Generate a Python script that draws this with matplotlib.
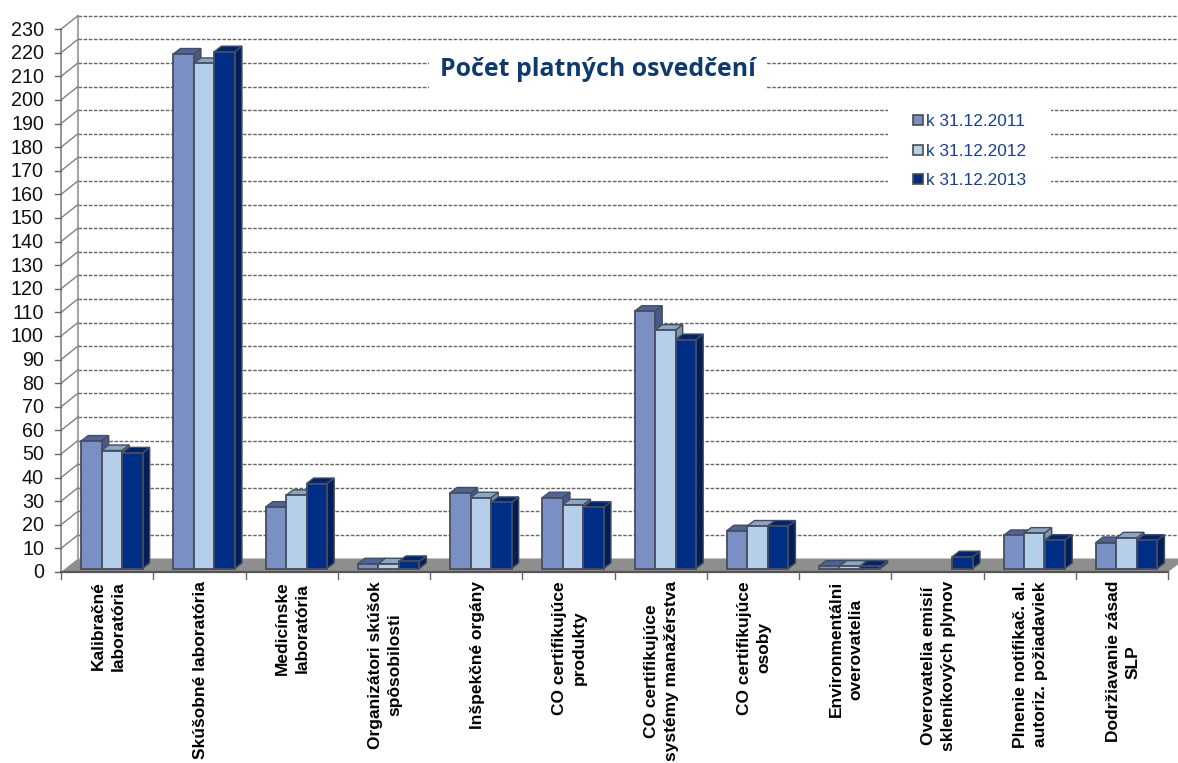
import matplotlib
matplotlib.use("Agg")
import matplotlib.pyplot as plt
from matplotlib.patches import Polygon, Rectangle

categories = ["Kalibračné\nlaboratória", "Skúšobné laboratória", "Medicínske\nlaboratória",
              "Organizátori skúšok\nspôsobilosti", "Inšpekčné orgány", "CO certifikujúce\nprodukty",
              "CO certifikujúce\nsystémy manažérstva", "CO certifikujúce\nosoby",
              "Environmentálni\noverovatelia", "Overovatelia emisií\nskleníkových plynov",
              "Plnenie notifikač. al.\nautoriz. požiadaviek", "Dodržiavanie zásad\nSLP"]
series_names = ["k 31.12.2011", "k 31.12.2012", "k 31.12.2013"]
s2011 = [54, 218, 26, 2, 32, 30, 109, 16, 1, 0, 14, 11]
s2012 = [50, 214, 31, 2, 30, 27, 101, 18, 1, 0, 15, 13]
s2013 = [49, 219, 36, 3, 28, 26, 97, 18, 1, 5, 12, 12]
y_ticks = list(range(0, 231, 10))
title = "Počet platných osvedčení"

front = ["#7a90c4", "#b5cfeb", "#002d85"]
top_c = ["#4f6496", "#8ba6c4", "#00246c"]
side = ["#47598a", "#7f97b3", "#001e5a"]
edge = "#474d5c"

W, H = 1178, 763
UX, UY = 92.25, 2.36      # pixels per category / per value unit
X0, Y0 = 61, 572          # pixel position of the origin
fig = plt.figure(figsize=(W / 100, H / 100), dpi=100)
ax = fig.add_axes([0, 0, 1, 1])
ax.set_xlim(-X0 / UX, (W - X0) / UX)
ax.set_ylim(-(H - Y0) / UY, Y0 / UY)
ax.axis("off")

wall_dx, wall_dy = 17 / UX, 13.5 / UY
bar_dx, bar_dy = 7.2 / UX, 5.5 / UY
bar_w = 20.5 / UX
bar_start = 20 / UX
bar_base = 3.5 / UY
right = (W - X0) / UX
top_v = y_ticks[-1]
n = len(categories)

# floor
ax.add_patch(Polygon([(0, 0), (wall_dx, wall_dy), (right, wall_dy), (right, wall_dy * 0.55), (n, 0)],
                     closed=True, fc="#8e8e8e", ec="none", zorder=1))
# gridlines on the back wall
for v in y_ticks[1:]:
    ax.plot([wall_dx, right], [v + wall_dy] * 2, color="#666666", lw=1.0,
            dashes=(2.6, 1.1), zorder=1)
# side wall
ax.plot([0, 0], [0, top_v], color="#8c8c8c", lw=1.3, zorder=2)
ax.plot([wall_dx, wall_dx], [wall_dy, top_v + wall_dy], color="#a6a6a6", lw=1.5, zorder=2)
for v in y_ticks[1:]:
    ax.plot([0, wall_dx], [v, v + wall_dy], color="#808080", lw=1.0, zorder=2)
for v in y_ticks:
    ax.plot([-6 / UX, 0], [v, v], color="#666666", lw=1.0, zorder=2)
    ax.text(-17 / UX, v + 1 / UY, str(v), ha="right", va="center_baseline", fontsize=14.2,
            family="Liberation Sans", color="#111111")
ax.plot([0, n], [0, 0], color="#555555", lw=1.6, zorder=2)
for i in range(n + 1):
    ax.plot([i, i], [0, -7 / UY], color="#666666", lw=1.0, zorder=2)

# bars
for i in range(n):
    for k, vals in enumerate([s2011, s2012, s2013]):
        v = vals[i]
        if v <= 0:
            continue
        x = i + bar_start + k * bar_w
        b = bar_base
        t = v + bar_base
        z = 3 + k * 0.1 + i
        ax.add_patch(Polygon([(x + bar_w, b), (x + bar_w + bar_dx, b + bar_dy),
                              (x + bar_w + bar_dx, t + bar_dy), (x + bar_w, t)],
                             closed=True, fc=side[k], ec=edge, lw=1.0, zorder=z))
        ax.add_patch(Polygon([(x, t), (x + bar_dx, t + bar_dy),
                              (x + bar_w + bar_dx, t + bar_dy), (x + bar_w, t)],
                             closed=True, fc=top_c[k], ec=edge, lw=1.0, zorder=z))
        ax.add_patch(Rectangle((x, b), bar_w, t - b, fc=front[k], ec=edge, lw=1.3, zorder=z + 0.01))

# category labels
for i, c in enumerate(categories):
    ax.text(i + 0.5 + 1 / UX, -9 / UY, c, rotation=90, ha="center", va="top", ma="center",
            fontsize=12.5, fontweight="bold", family="Liberation Sans", color="#000000",
            linespacing=1.38, zorder=30)

# title
ax.text((598 - X0) / UX, (Y0 - 70) / UY, title, ha="center", va="center", fontsize=17.9,
        fontweight="bold", family="Open Sans", color="#0f3a6e", zorder=40,
        bbox=dict(fc="white", ec="none", pad=8))

# legend
ax.add_patch(Rectangle(((888 - X0) / UX, (Y0 - 192) / UY), 163 / UX, 92 / UY, fc="white", ec="none", zorder=35))
for k, (name, py) in enumerate(zip(series_names, [120, 150, 179])):
    ax.add_patch(Rectangle(((912.5 - X0) / UX, (Y0 - py - 5) / UY), 10 / UX, 10 / UY, fc=front[k],
                           ec="#4a4a4a", lw=1.2, zorder=41))
    ax.text((926 - X0) / UX, (Y0 - py) / UY, name, ha="left", va="center_baseline", fontsize=12.4,
            family="Liberation Sans", color="#1a3f8c", zorder=41)

fig.savefig("out.png", dpi=100, facecolor="white")
